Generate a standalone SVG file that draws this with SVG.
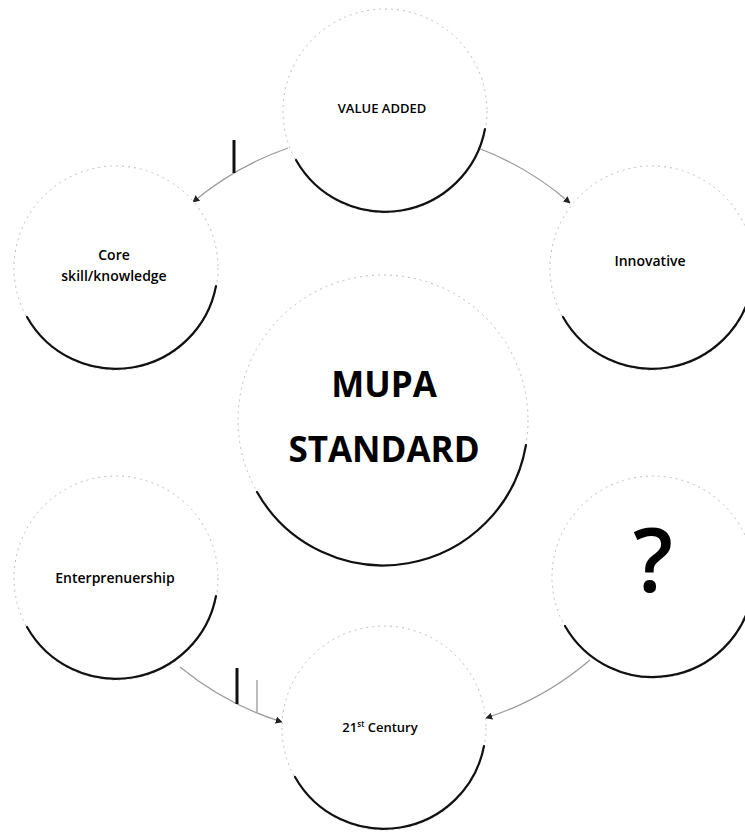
<svg xmlns="http://www.w3.org/2000/svg" width="745" height="832" viewBox="0 0 745 832">
<style>
.ring{fill:none;stroke:#9a9a9a;stroke-width:1.2}
.rim{fill:#fff;stroke:#bdbdbd;stroke-width:1;stroke-dasharray:2 4}
.shade{fill:none;stroke:#111;stroke-width:2.2;stroke-linecap:round}
.lbl{font-family:"Open Sans","Liberation Sans",sans-serif;font-weight:600;fill:#000;text-anchor:middle}
.big{font-family:"Open Sans","Liberation Sans",sans-serif;font-weight:700;font-size:35px;fill:#000;text-anchor:middle}
</style>
<defs>
<marker id="arr" viewBox="0 0 10 10" refX="9" refY="5" markerWidth="7" markerHeight="7" orient="auto" markerUnits="userSpaceOnUse">
<path d="M0,0 L10,5 L0,10 z" fill="#222"/>
</marker>
</defs>
<rect width="745" height="832" fill="#fff"/>
<g id="connectors">
<path class="ring" d="M288 148 A303 303 0 0 0 193 202" marker-end="url(#arr)"/>
<path class="ring" d="M478 148 A303 303 0 0 1 570 203" marker-end="url(#arr)"/>
<path class="ring" d="M590 660 A303 303 0 0 1 486 718" marker-end="url(#arr)"/>
<path class="ring" d="M180 667 A303 303 0 0 0 282 722" marker-end="url(#arr)"/>
<line x1="234" y1="140" x2="234" y2="173" stroke="#111" stroke-width="3"/>
<line x1="237" y1="668" x2="237" y2="704" stroke="#111" stroke-width="3"/>
<line x1="257" y1="680" x2="257" y2="712" stroke="#777" stroke-width="1"/>
</g>
<g id="center">
<circle class="rim" cx="383" cy="420" r="145"/>
<path class="shade" d="M526 445 A145 145 0 0 1 257 492"/>
<text class="big" x="384" y="397">MUPA</text>
<text class="big" x="384" y="462">STANDARD</text>
</g>
<g id="value-added">
<circle class="rim" cx="385" cy="111" r="102"/>
<path class="shade" d="M485 129 A102 102 0 0 1 296 160"/>
<text class="lbl" x="382" y="113" font-size="13">VALUE ADDED</text>
</g>
<g id="innovative">
<circle class="rim" cx="652" cy="268" r="102"/>
<path class="shade" d="M752 286 A102 102 0 0 1 563 317"/>
<text class="lbl" x="650" y="266" font-size="14">Innovative</text>
</g>
<g id="question">
<circle class="rim" cx="653" cy="577" r="101"/>
<path class="shade" d="M752 595 A101 101 0 0 1 565 626"/>
<text class="lbl" x="653" y="592" font-size="88" font-weight="400">?</text>
</g>
<g id="century">
<circle class="rim" cx="384" cy="728" r="102"/>
<path class="shade" d="M484 746 A102 102 0 0 1 295 777"/>
<text class="lbl" x="380" y="732" font-size="13">21<tspan font-size="8" dy="-5">st</tspan><tspan dy="5"> Century</tspan></text>
</g>
<g id="enterprenuership">
<circle class="rim" cx="116" cy="578" r="102"/>
<path class="shade" d="M216 596 A102 102 0 0 1 27 627"/>
<text class="lbl" x="115" y="583" font-size="14">Enterprenuership</text>
</g>
<g id="core">
<circle class="rim" cx="116" cy="268" r="102"/>
<path class="shade" d="M216 286 A102 102 0 0 1 27 317"/>
<text class="lbl" x="114" y="260" font-size="14">Core</text>
<text class="lbl" x="114" y="281" font-size="14">skill/knowledge</text>
</g>
</svg>
